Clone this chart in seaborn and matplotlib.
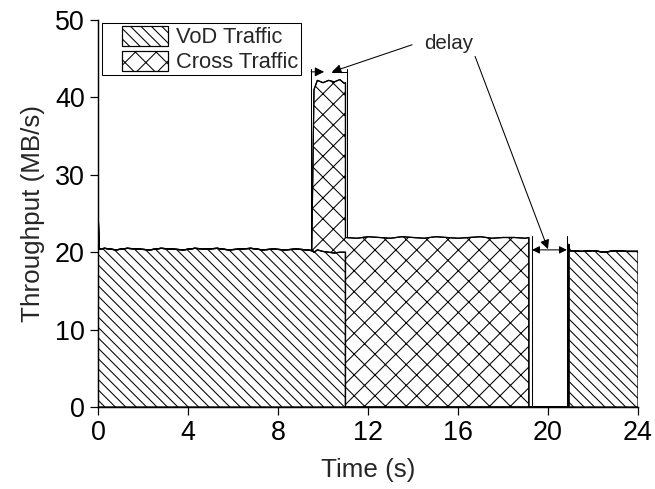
import matplotlib
matplotlib.use("Agg")
import matplotlib.pyplot as plt
import matplotlib.patches as mpatches
import numpy as np
import seaborn as sns

# =========================
# dados
# =========================
tempo = [0.0, 0.05, 0.3, 0.8, 1.3, 1.8, 2.3, 2.8, 3.3, 3.8, 4.3, 4.8, 5.3, 5.8,
         6.3, 6.8, 7.3, 7.8, 8.3, 8.8, 9.3, 9.5, 9.6, 9.75, 10.0, 10.25, 10.5,
         10.75, 10.95, 11.0, 11.0, 11.5, 12.0, 12.5, 13.0, 13.5, 14.0, 14.5,
         15.0, 15.5, 16.0, 16.5, 17.0, 17.5, 18.0, 18.5, 19.0, 19.15, 19.15,
         20.0, 20.92, 20.92, 20.97, 21.5, 22.0, 22.5, 23.0, 23.5, 24.0]

vod = [26.0, 20.4, 20.5, 20.3, 20.5, 20.4, 20.3, 20.5, 20.4, 20.3, 20.5, 20.4,
       20.5, 20.3, 20.4, 20.5, 20.3, 20.4, 20.3, 20.4, 20.3, 20.2, 20.0, 20.3,
       20.1, 20.0, 19.9, 20.0, 20.0, 20.0, 0.0, 0.0, 0.0, 0.0, 0.0, 0.0, 0.0,
       0.0, 0.0, 0.0, 0.0, 0.0, 0.0, 0.0, 0.0, 0.0, 0.0, 0.0, 0.0, 0.0, 0.0,
       21.0, 20.2, 20.1, 20.2, 20.0, 20.2, 20.1, 20.1]

cross = [0.0, 0.0, 0.0, 0.0, 0.0, 0.0, 0.0, 0.0, 0.0, 0.0, 0.0, 0.0, 0.0, 0.0,
         0.0, 0.0, 0.0, 0.0, 0.0, 0.0, 0.0, 0.0, 21.0, 21.9, 21.8, 22.2, 22.1,
         22.3, 21.8, 21.9, 21.9, 21.8, 22.0, 21.9, 21.8, 22.0, 21.9, 21.8, 22.0,
         21.9, 21.8, 21.9, 22.0, 21.8, 21.9, 21.9, 21.8, 21.9, 0.0, 0.0, 0.0,
         0.0, 0.0, 0.0, 0.0, 0.0, 0.0, 0.0, 0.0]

legenda = ["VoD Traffic", "Cross Traffic"]

tempo = np.array(tempo)
vod = np.array(vod)
total = vod + np.array(cross)

# =========================
# estilo
# =========================
sns.set_style("ticks")
plt.rcParams["font.family"] = ["Liberation Sans", "DejaVu Sans"]
plt.rcParams["hatch.linewidth"] = 0.6

dpi = 125
fig = plt.figure(figsize=(655 / dpi, 489 / dpi), dpi=dpi)
ax = fig.add_axes([0.1496, 0.1677, 0.8244, 0.7914])

# áreas hachuradas
ax.fill_between(tempo, 0, vod, facecolor="white", edgecolor="black",
                hatch="\\\\\\\\", linewidth=0.7)
ax.fill_between(tempo, vod, total, facecolor="white", edgecolor="black",
                hatch="xx", linewidth=0.7)

sns.lineplot(x=tempo, y=vod, ax=ax, color="black", linewidth=0.7,
             estimator=None, sort=False)
sns.lineplot(x=tempo, y=total, ax=ax, color="black", linewidth=0.7,
             estimator=None, sort=False)

ax.set_xlim(0, 24)
ax.set_ylim(0, 50)
ax.set_xticks(range(0, 25, 4))
ax.set_yticks(range(0, 51, 10))
ax.tick_params(direction="out", length=4.6, width=0.7, labelsize=15.5,
               colors="black", pad=3)
for lado in ["left", "bottom"]:
    ax.spines[lado].set_linewidth(0.85)
    ax.spines[lado].set_color("black")
sns.despine(ax=ax)

ax.set_xlabel("Time (s)", fontsize=15, labelpad=7)
ax.set_ylabel("Throughput (MB/s)", fontsize=15, labelpad=6)

# legenda (moldura desenhada à parte, mais larga à esquerda)
moldura = mpatches.Rectangle((0.0074, 0.858), 0.3685, 0.134,
                             transform=ax.transAxes, facecolor="white",
                             edgecolor="black", linewidth=0.6, zorder=4)
ax.add_patch(moldura)

handles = [
    mpatches.Patch(facecolor="white", edgecolor="black", hatch="\\\\\\\\",
                   linewidth=0.7, label=legenda[0]),
    mpatches.Patch(facecolor="white", edgecolor="black", hatch="xx",
                   linewidth=0.7, label=legenda[1]),
]
leg = ax.legend(handles=handles, loc="upper right",
                bbox_to_anchor=(0.3759, 0.992), borderaxespad=0,
                frameon=False, fontsize=12.6, handlelength=2.1,
                handleheight=1.0, handletextpad=0.33, labelspacing=0.12,
                borderpad=0.14)
leg.set_zorder(5)

# anotações "delay"
ax.text(15.6, 46.9, "delay", fontsize=11.8, ha="center", va="center")

seta = dict(arrowstyle="-|>", color="black", lw=0.6, mutation_scale=11,
            shrinkA=0, shrinkB=0)
dupla = dict(arrowstyle="<|-|>", color="black", lw=0.6, mutation_scale=9,
             shrinkA=0, shrinkB=0)

# cota no pico
ax.plot([9.47, 9.47], [20.6, 43.7], color="black", lw=0.6)
ax.plot([11.07, 11.07], [21.9, 43.7], color="black", lw=0.6)
ax.annotate("", xy=(10.05, 43.3), xytext=(9.47, 43.3), arrowprops=seta)
ax.plot([10.4, 11.07], [43.3, 43.3], color="black", lw=0.6)
ax.annotate("", xy=(10.4, 43.3), xytext=(13.96, 46.8), arrowprops=seta)

# cota no intervalo
ax.plot([19.29, 19.29], [0, 22.1], color="black", lw=0.6)
ax.plot([20.84, 20.84], [0, 22.1], color="black", lw=0.6)
ax.annotate("", xy=(19.29, 20.3), xytext=(20.84, 20.3), arrowprops=dupla)
ax.annotate("", xy=(20.0, 20.4), xytext=(16.76, 45.3), arrowprops=seta)

fig.savefig("out.png", dpi=dpi)
